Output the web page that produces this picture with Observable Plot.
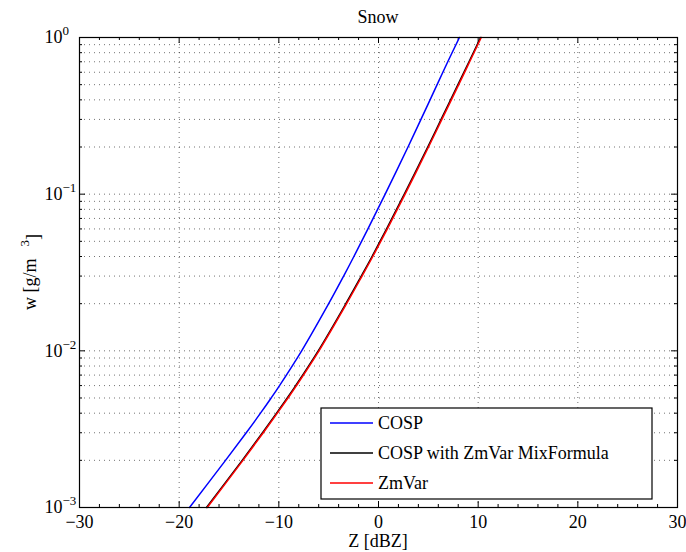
<!DOCTYPE html>
<html>
<head>
<meta charset="utf-8">
<script src="https://cdn.jsdelivr.net/npm/d3@7"></script>
<script src="https://cdn.jsdelivr.net/npm/@observablehq/plot@0.6"></script>
<style>
  body { margin: 0; background: #fff; }
  #chart { position: relative; width: 686px; height: 552px; }
  #chart svg text { font-family: "Liberation Serif", "Times New Roman", serif !important; }
</style>
</head>
<body>
<div id="chart"></div>
<script>
// ---- data ----
const title = "Snow";
const xLabel = "Z [dBZ]";
const seriesNames = ["COSP", "COSP with ZmVar MixFormula", "ZmVar"];
const seriesColors = ["#0000ff", "#000000", "#ff0000"];

const wLevels = [0.001,0.002,0.003,0.004,0.005,0.006,0.01,0.02,0.03,0.04,0.06,0.1,0.2,0.3,0.5,0.7,1];
const cospZ   = [-18.96,-15.35,-13.27,-11.84,-10.77,-9.93,-7.71,-5.0,-3.5,-2.47,-1.06,0.67,2.96,4.26,5.88,6.95,8.12];
const mixZ    = [-17.26,-13.68,-11.64,-10.23,-9.16,-8.31,-6.05,-3.28,-1.73,-0.65,0.81,2.59,4.94,6.28,7.97,9.08,10.24];
const zmvarZ  = [-17.18,-13.60,-11.56,-10.15,-9.08,-8.23,-5.97,-3.20,-1.65,-0.57,0.89,2.67,5.02,6.36,8.05,9.15,10.31];

const xMajor = [-30,-20,-10,0,10,20,30];
const xGrid = [-20,-10,0,10,20];
const xMinor = d3.range(-28, 30, 2).filter(v => v % 10 !== 0);
const yMajor = [0.001, 0.01, 0.1, 1];
const yMinor = [0.001, 0.01, 0.1].flatMap(d => d3.range(2, 10).map(k => k * d));
const yGrid = [...yMinor, 0.01, 0.1];

// ---- build table ----
const zLists = [cospZ, mixZ, zmvarZ];
const rows = seriesNames.flatMap((name, i) => wLevels.map((w, j) => ({series: name, z: zLists[i][j], w})));

const W = 686, H = 552, mL = 79, mR = 9, mT = 37, mB = 45;
const plotW = W - mL - mR, plotH = H - mT - mB;
const font = "'Liberation Serif', 'Times New Roman', serif";
const gridStyle = {stroke: "#000", strokeOpacity: 0.55, strokeDasharray: "1,4", strokeWidth: 1};

const chart = Plot.plot({
  width: W, height: H,
  marginLeft: mL, marginRight: mR, marginTop: mT, marginBottom: mB,
  style: {fontFamily: font, fontSize: "18px", background: "#fff", color: "#000"},
  x: {domain: [-30, 30]},
  y: {type: "log", domain: [0.001, 1]},
  color: {domain: seriesNames, range: seriesColors},
  marks: [
    Plot.ruleX(xGrid, {x: d => d, ...gridStyle}),
    Plot.ruleY(yGrid, {y: d => d, ...gridStyle}),
    // tick marks inside the frame (bottom/top/left/right)
    Plot.ruleX(xMajor, {x: d => d, insetTop: plotH - 6, stroke: "#000"}),
    Plot.ruleX(xMajor, {x: d => d, insetBottom: plotH - 6, stroke: "#000"}),
    Plot.ruleX(xMinor, {x: d => d, insetTop: plotH - 3, stroke: "#000"}),
    Plot.ruleX(xMinor, {x: d => d, insetBottom: plotH - 3, stroke: "#000"}),
    Plot.ruleY(yMajor, {y: d => d, insetRight: plotW - 6, stroke: "#000"}),
    Plot.ruleY(yMajor, {y: d => d, insetLeft: plotW - 6, stroke: "#000"}),
    Plot.ruleY(yMinor, {y: d => d, insetRight: plotW - 3, stroke: "#000"}),
    Plot.ruleY(yMinor, {y: d => d, insetLeft: plotW - 3, stroke: "#000"}),
    Plot.line(rows, {x: "z", y: "w", z: "series", stroke: "series", strokeWidth: 1.5, curve: "catmull-rom"}),
    Plot.frame({stroke: "#000", strokeWidth: 1.2}),
    Plot.axisX(xMajor, {tickSize: 0, tickPadding: 8, label: null,
      tickFormat: d => d < 0 ? "\u2212" + (-d) : String(d)}),
    Plot.axisY(yMajor, {tickSize: 0, tickPadding: 35, textAnchor: "start", label: null,
      tickFormat: d => "10^" + Math.round(Math.log10(d))})
  ]
});

document.getElementById("chart").appendChild(chart);
const svg = d3.select(chart);

// superscript exponents on y tick labels
svg.selectAll("text").each(function() {
  const t = d3.select(this);
  const s = t.text();
  if (/^10\^/.test(s)) {
    const e = s.slice(3).replace("-", "\u2212");
    t.text("");
    t.append("tspan").text("10");
    t.append("tspan").attr("dy", "-0.6em").style("font-size", "13px").text(e);
  }
});

function addText(sel) {
  return sel.append("text").style("font-family", font).style("font-size", "18px").attr("fill", "#000");
}
// title
addText(svg).attr("x", mL + plotW / 2).attr("y", 23).attr("text-anchor", "middle").text(title);
// x label
addText(svg).attr("x", mL + plotW / 2).attr("y", 547).attr("text-anchor", "middle").text(xLabel);
// y label with superscript
const yl = addText(svg).attr("transform", `translate(36,${mT + plotH / 2}) rotate(-90)`)
  .attr("text-anchor", "middle");
yl.append("tspan").text("w [g/m");
yl.append("tspan").attr("dx", 12).attr("dy", "-0.55em").style("font-size", "13px").text("3");
yl.append("tspan").attr("dy", "0.55em").text("]");

// legend
const lg = svg.append("g").attr("transform", "translate(321,408)");
lg.append("rect").attr("width", 331).attr("height", 91).attr("fill", "#fff").attr("stroke", "#000").attr("stroke-width", 1.2);
seriesNames.forEach((name, i) => {
  const yy = 15 + i * 30;
  lg.append("line").attr("x1", 9).attr("x2", 52).attr("y1", yy).attr("y2", yy)
    .attr("stroke", seriesColors[i]).attr("stroke-width", 1.5);
  addText(lg).attr("x", 57).attr("y", yy + 6).attr("text-anchor", "start").text(name);
});
</script>
</body>
</html>
